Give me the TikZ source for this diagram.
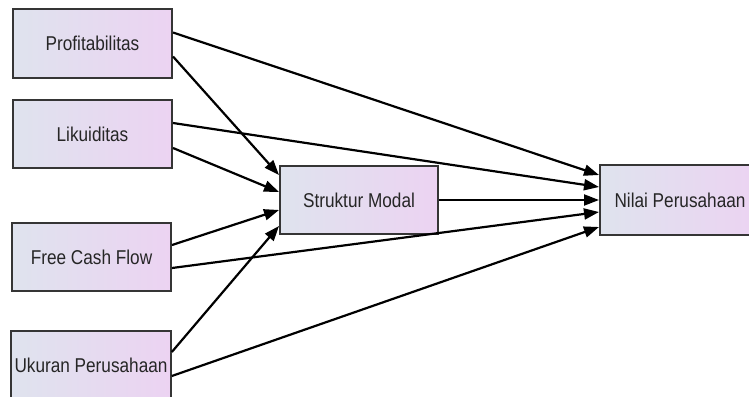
\documentclass[tikz,border=0pt]{standalone}
\usepackage{fontspec}
\setmainfont[FakeStretch=0.86]{Liberation Sans}
\usetikzlibrary{arrows.meta}
\definecolor{boxleft}{HTML}{DFE3EE}
\definecolor{boxright}{HTML}{ECD3F2}
\definecolor{boxline}{HTML}{353535}
\tikzset{
  var/.style={draw=boxline, line width=2pt, left color=boxleft, right color=boxright,
    minimum width=159pt, minimum height=68pt, text=black!85, font=\fontsize{20}{23}\selectfont},
  path/.style={line width=2.2pt, -{Triangle[length=15pt,width=11pt]}}
}
\begin{document}
\begin{tikzpicture}[x=1pt,y=-1pt]
        \useasboundingbox (0,0) rectangle (749,396);
        \node[var] (prof) at (92.5,43.5) {Profitabilitas};
        \node[var] (likuid) at (92.5,134) {Likuiditas};
        \node[var] (fcf) at (91.5,257) {Free Cash Flow};
        \node[var] (ukuran) at (91,365) {Ukuran Perusahaan};
        \node[var, minimum width=158pt] (struktur) at (359,200) {Struktur Modal};
        \node[var, minimum width=160pt, minimum height=70pt] (nilai) at (680,200) {Nilai Perusahaan};
        % ke struktur modal
        \draw [path] ([yshift=-13pt]prof.east) -- ([yshift=25pt]struktur.west);
        \draw [path] ([yshift=-14pt]likuid.east) -- ([yshift=8pt]struktur.west);
        \draw [path] ([yshift=12pt]fcf.east) -- ([yshift=-10pt]struktur.west);
        \draw [path] ([yshift=13pt]ukuran.east) -- ([yshift=-26pt]struktur.west);
        % ke nilai perusahaan
        \draw [path] ([yshift=11pt]prof.east) -- ([yshift=25pt]nilai.west);
        \draw [path] ([yshift=11pt]likuid.east) -- ([yshift=13pt]nilai.west);
        \draw [path] (struktur) -- (nilai);
        \draw [path] ([yshift=-11pt]fcf.east) -- ([yshift=-12pt]nilai.west);
        \draw [path] ([yshift=-11pt]ukuran.east) -- ([yshift=-27pt]nilai.west);
    \end{tikzpicture}
\end{document}
